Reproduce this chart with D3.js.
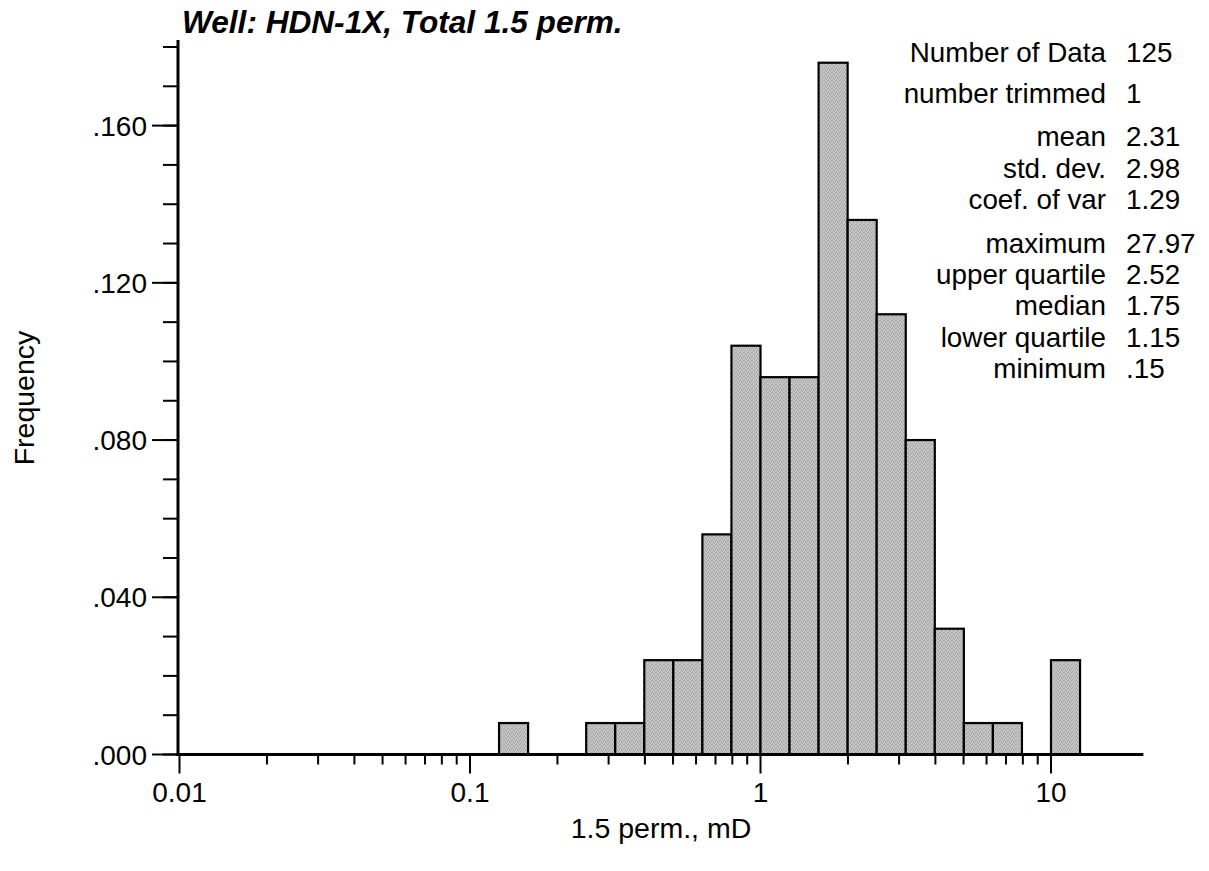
<!DOCTYPE html>
<html>
<head>
<meta charset="utf-8">
<script src="https://cdn.jsdelivr.net/npm/d3@7"></script>
<style>
  html, body { margin: 0; padding: 0; background: #fff; }
  svg { display: block; }
  text { font-family: "Liberation Sans", Arial, Helvetica, sans-serif; fill: #000; }
</style>
</head>
<body>
<svg id="chart" width="1209" height="871"></svg>
<script>
// Histogram of 1.5 perm. (mD), log-spaced bins of 0.1 decade
const binLowLog10 = [-0.9, -0.6, -0.5, -0.4, -0.3, -0.2, -0.1, 0.0, 0.1, 0.2, 0.3, 0.4, 0.5, 0.6, 0.7, 0.8, 1.0];
const binFrequency = [0.008, 0.008, 0.008, 0.024, 0.024, 0.056, 0.104, 0.096, 0.096, 0.176, 0.136, 0.112, 0.080, 0.032, 0.008, 0.008, 0.024];
const binStep = 0.1;

const yMajorTicks = [0, 0.04, 0.08, 0.12, 0.16];
const yTickLabels = [".000", ".040", ".080", ".120", ".160"];
const xMajorTicks = [0.01, 0.1, 1, 10];
const xTickLabels = ["0.01", "0.1", "1", "10"];

const statLabels = ["Number of Data", "number trimmed", "mean", "std. dev.", "coef. of var",
                    "maximum", "upper quartile", "median", "lower quartile", "minimum"];
const statValues = ["125", "1", "2.31", "2.98", "1.29", "27.97", "2.52", "1.75", "1.15", ".15"];

const titleText = "Well: HDN-1X, Total 1.5 perm.";
const xTitle = "1.5 perm., mD";
const yTitle = "Frequency";

const svg = d3.select("#chart");

// stippled grey fill for the bars
const defs = svg.append("defs");
const pat = defs.append("pattern")
  .attr("id", "stipple").attr("patternUnits", "userSpaceOnUse")
  .attr("width", 4).attr("height", 4);
const greys = [
  ["#aeaeae", "#cdcdcd", "#bdbdbd", "#a4a4a4"],
  ["#c4c4c4", "#a6a6a6", "#d3d3d3", "#b4b4b4"],
  ["#cccccc", "#b5b5b5", "#a1a1a1", "#c5c5c5"],
  ["#a9a9a9", "#c6c6c6", "#b7b7b7", "#d1d1d1"]
];
greys.forEach((row, r) => row.forEach((c, k) => {
  pat.append("rect").attr("x", k).attr("y", r).attr("width", 1).attr("height", 1)
    .attr("fill", c).attr("shape-rendering", "crispEdges");
}));

const decadePx = 290.5;
const x0 = 179.5;
const xMaxVal = 20.8;
const x = d3.scaleLog().domain([0.01, xMaxVal])
  .range([x0, x0 + decadePx * Math.log10(xMaxVal / 0.01)]);
const y = d3.scaleLinear().domain([0, 0.18]).range([754.5, 47]);

// bars
svg.append("g").selectAll("rect")
  .data(binLowLog10.map((l, i) => ({ lo: Math.pow(10, l), hi: Math.pow(10, l + binStep), f: binFrequency[i] })))
  .join("rect")
  .attr("x", d => x(d.lo))
  .attr("width", d => x(d.hi) - x(d.lo))
  .attr("y", d => y(d.f))
  .attr("height", d => y(0) - y(d.f))
  .attr("fill", "url(#stipple)")
  .attr("stroke", "#000")
  .attr("stroke-width", 2.2);

// y axis: minor every .01, major every .04
const yAxisX = 178;
const yMinor = d3.range(0, 0.1801, 0.01);
const yg = svg.append("g");
yg.selectAll("line.minor").data(yMinor).join("line")
  .attr("x1", yAxisX - 15).attr("x2", yAxisX)
  .attr("y1", d => y(d)).attr("y2", d => y(d))
  .attr("stroke", "#000").attr("stroke-width", 2);
yg.selectAll("line.major").data(yMajorTicks).join("line")
  .attr("x1", yAxisX - 26).attr("x2", yAxisX)
  .attr("y1", d => y(d)).attr("y2", d => y(d))
  .attr("stroke", "#000").attr("stroke-width", 2);
yg.selectAll("text").data(yMajorTicks).join("text")
  .attr("x", 147).attr("y", d => y(d) + 10)
  .attr("text-anchor", "end").attr("font-size", 28)
  .text((d, i) => yTickLabels[i]);
yg.append("line")
  .attr("x1", yAxisX).attr("x2", yAxisX).attr("y1", 40).attr("y2", y(0) + 1.5)
  .attr("stroke", "#000").attr("stroke-width", 3);

// x axis: log ticks, minor at 2..9 of each decade
const xMinor = [];
[0.01, 0.1, 1].forEach(dec => { for (let m = 2; m <= 9; m++) xMinor.push(dec * m); });
const xg = svg.append("g");
xg.selectAll("line.minor").data(xMinor).join("line")
  .attr("x1", d => x(d)).attr("x2", d => x(d))
  .attr("y1", y(0)).attr("y2", y(0) + 10)
  .attr("stroke", "#000").attr("stroke-width", 2);
xg.selectAll("line.major").data(xMajorTicks).join("line")
  .attr("x1", d => x(d)).attr("x2", d => x(d))
  .attr("y1", y(0)).attr("y2", y(0) + 19)
  .attr("stroke", "#000").attr("stroke-width", 2);
xg.selectAll("text").data(xMajorTicks).join("text")
  .attr("x", d => x(d)).attr("y", 802)
  .attr("text-anchor", "middle").attr("font-size", 28)
  .text((d, i) => xTickLabels[i]);
xg.append("line")
  .attr("x1", yAxisX - 1.5).attr("x2", x(xMaxVal)).attr("y1", y(0)).attr("y2", y(0))
  .attr("stroke", "#000").attr("stroke-width", 3);

// titles
svg.append("text").attr("x", 182).attr("y", 33)
  .attr("font-size", 31.6).attr("font-weight", "bold").attr("font-style", "italic")
  .text(titleText);
svg.append("text").attr("x", 661).attr("y", 838)
  .attr("text-anchor", "middle").attr("font-size", 28.5)
  .text(xTitle);
svg.append("text").attr("transform", "translate(34,398) rotate(-90)")
  .attr("text-anchor", "middle").attr("font-size", 28.5)
  .text(yTitle);

// summary statistics block
const statBaselines = [62, 103, 146, 178, 209, 253, 284, 315, 347, 378];
const sg = svg.append("g").attr("font-size", 27.8);
sg.selectAll("text.lab").data(statLabels).join("text")
  .attr("x", 1106).attr("y", (d, i) => statBaselines[i])
  .attr("text-anchor", "end").text(d => d);
sg.selectAll("text.val").data(statValues).join("text")
  .attr("x", 1126).attr("y", (d, i) => statBaselines[i])
  .text(d => d);
</script>
</body>
</html>
